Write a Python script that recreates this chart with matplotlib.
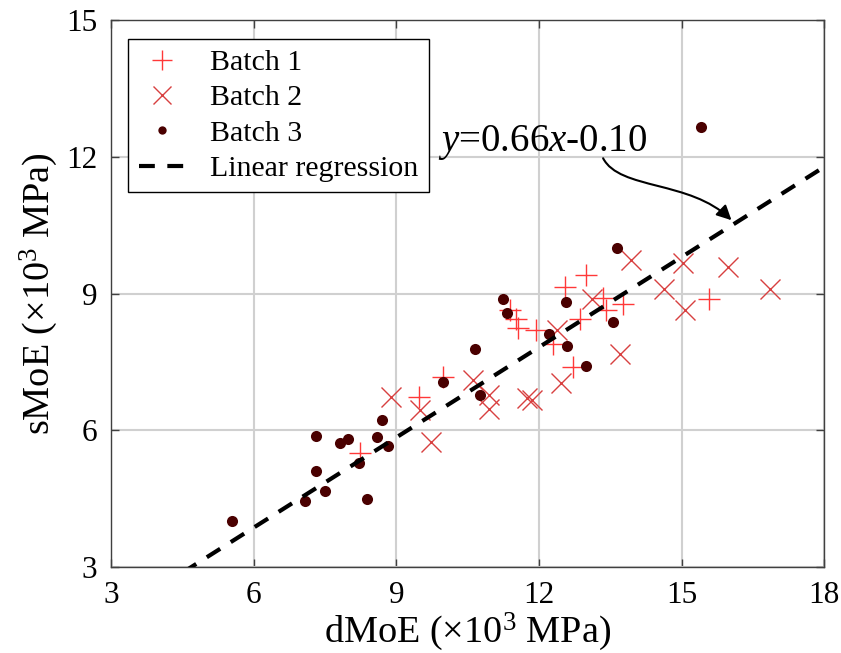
import numpy as np
import matplotlib
matplotlib.use("Agg")
from matplotlib import pyplot as plt
from matplotlib.patches import FancyArrowPatch
from matplotlib.path import Path

plt.rcParams['font.family'] = ['Liberation Serif', 'DejaVu Serif']
plt.rcParams['mathtext.fontset'] = 'custom'
plt.rcParams['mathtext.rm'] = 'Liberation Serif'
plt.rcParams['mathtext.it'] = 'Liberation Serif:italic'

# Batch 1 (+)
b1_x = [8.24, 9.48, 9.99, 11.39, 11.52, 11.55, 11.94, 12.30, 12.55, 13.00,
        12.86, 12.72, 13.34, 13.76, 13.42, 15.58]
b1_y = [5.49, 6.73, 7.17, 8.63, 8.43, 8.25, 8.21, 7.90, 9.15, 9.40,
        8.45, 7.39, 8.91, 8.78, 8.63, 8.88]

# Batch 2 (x)
b2_x = [8.88, 9.50, 9.74, 10.61, 10.94, 10.94, 11.74, 11.85, 12.37, 12.46,
        13.11, 13.70, 13.94, 14.63, 15.04, 15.07, 15.98, 16.86]
b2_y = [6.73, 6.44, 5.74, 7.10, 6.77, 6.46, 6.70, 6.66, 8.20, 7.04,
        8.89, 7.68, 9.73, 9.11, 9.67, 8.63, 9.58, 9.11]

# Batch 3 (dots)
b3_x = [5.54, 7.07, 7.31, 7.31, 7.50, 7.82, 7.98, 8.22, 8.39, 8.59, 8.71, 8.83,
        9.98, 10.66, 10.76, 11.24, 11.32, 12.22, 12.57, 12.60, 13.00, 13.56,
        13.64, 15.40]
b3_y = [4.01, 4.44, 5.11, 5.87, 4.66, 5.71, 5.80, 5.29, 4.49, 5.84, 6.22, 5.66,
        7.06, 7.79, 6.77, 8.87, 8.58, 8.12, 8.82, 7.85, 7.40, 8.38,
        10.00, 12.66]

# regression y = 0.66x - 0.10
slope = 0.66
intercept = -0.10
fit_x = np.array([3, 18])

ticks = [3, 6, 9, 12, 15, 18]
yticks = [3, 6, 9, 12, 15]

fig = plt.figure(figsize=(8.41, 6.53), dpi=100)
ax = fig.add_axes([0.132, 0.132, 0.848, 0.837])

ax.plot(b1_x, b1_y, '+', color='#ff3838', ms=16, mew=1.0, label='Batch 1', zorder=3)
ax.plot(b2_x, b2_y, 'x', color='#d84040', ms=15, mew=1.0, label='Batch 2', zorder=3)
ax.plot(b3_x, b3_y, 'o', color='#4a0000', ms=8, mew=0, label='Batch 3', zorder=4)
ax.plot(fit_x, slope * fit_x + intercept, '--', color='black', lw=3,
        dashes=(3.8, 3.0), label='Linear regression', zorder=5)

ax.set_xlim(3, 18)
ax.set_ylim(3, 15)
ax.set_xticks(ticks)
ax.set_yticks(yticks)
ax.grid(True, color='#d0d0d0', lw=1.5)
ax.set_axisbelow(True)
ax.tick_params(direction='in', top=True, right=True, labelsize=22.5, length=6,
               width=1, color='#404040', pad=10)
for s in ax.spines.values():
    s.set_color('#404040')
    s.set_linewidth(1)

ax.set_xlabel(r'dMoE (×10$^3$ MPa)', fontsize=27.5, labelpad=1)
ax.set_ylabel(r'sMoE (×10$^3$ MPa)', fontsize=27.5, labelpad=4)

# curved arrow pointing at the fit line
arrow_path = Path([(13.35, 11.97), (13.70, 11.27), (15.18, 11.49), (16.05, 10.61)],
                  [Path.MOVETO, Path.CURVE4, Path.CURVE4, Path.CURVE4])
arr = FancyArrowPatch(path=arrow_path, arrowstyle='-|>', color='black', lw=1.5,
                      mutation_scale=22, transform=ax.transData, zorder=6)
ax.add_patch(arr)
ax.text(9.88, 12.12, r'$y$=0.66$x$-0.10', fontsize=28, ha='left', va='baseline')

leg = ax.legend(loc='upper left', bbox_to_anchor=(0.024, 0.966), borderaxespad=0,
                fontsize=21.5, frameon=True, fancybox=False, edgecolor='black',
                framealpha=1, labelspacing=0.28, handlelength=1.6,
                handletextpad=0.8, borderpad=0.35, markerscale=0.9)
leg.get_frame().set_linewidth(1)
leg.legend_handles[2].set_markersize(6)

fig.savefig('out.png', dpi=100)
